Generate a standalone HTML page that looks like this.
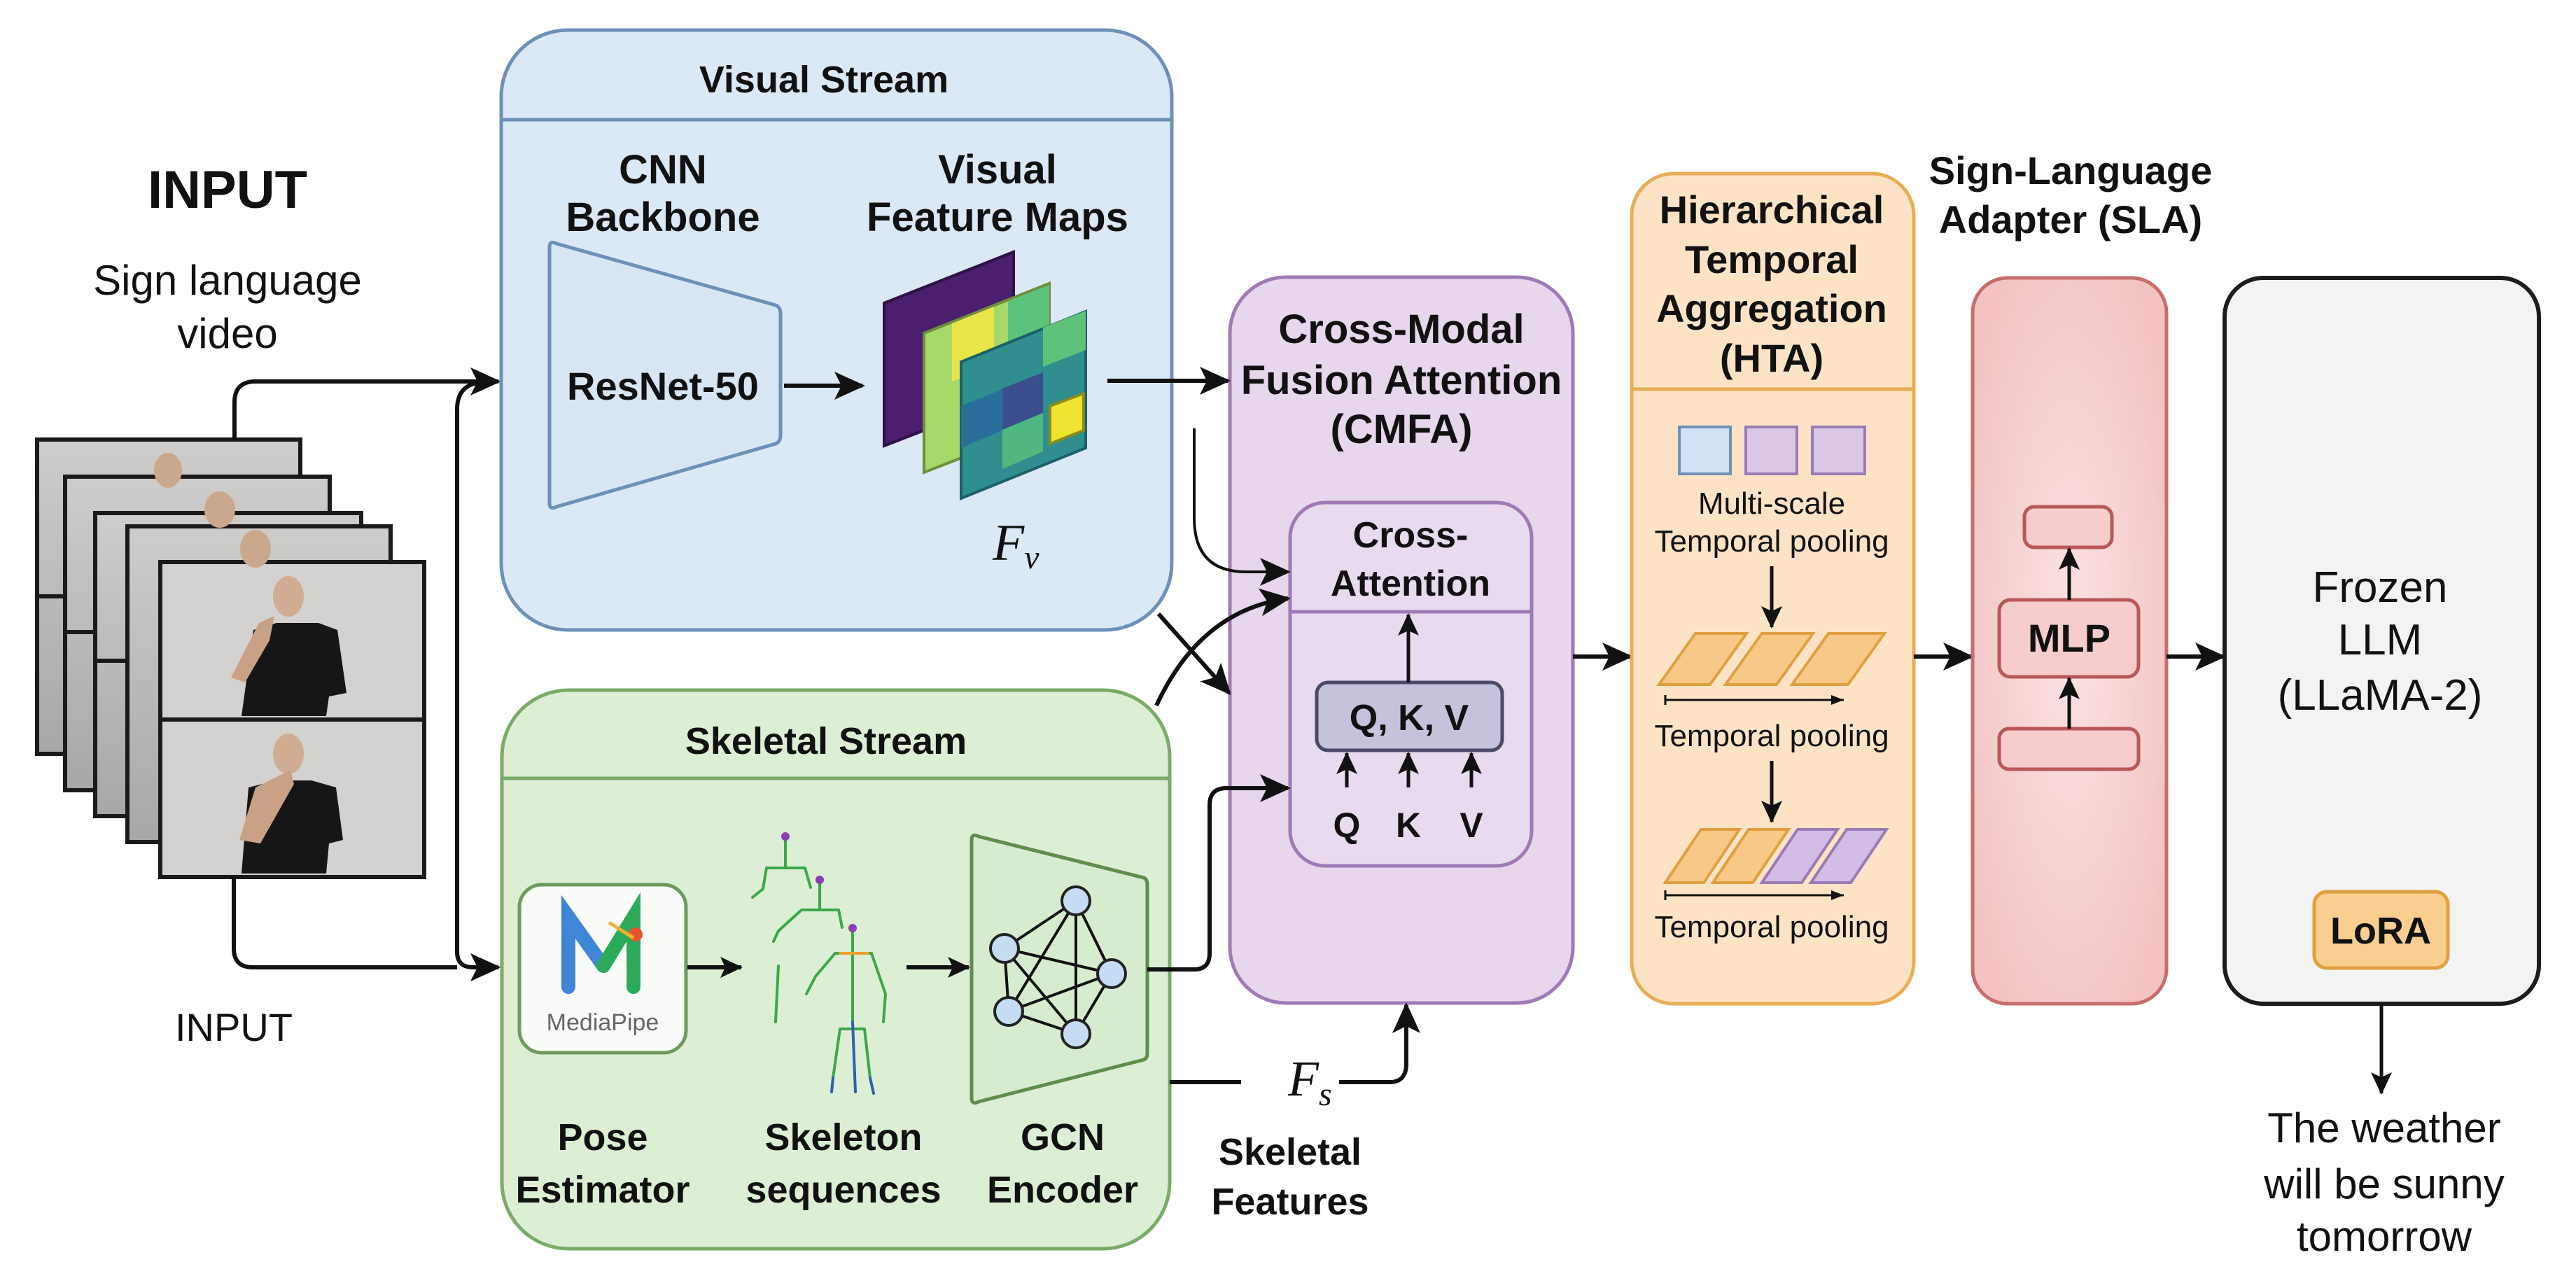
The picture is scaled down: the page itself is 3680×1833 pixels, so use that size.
<!DOCTYPE html>
<html><head><meta charset="utf-8"><style>
html,body{margin:0;padding:0;background:#fff;}
svg{display:block;}
text{font-family:"Liberation Sans",Arial,sans-serif;fill:#111;}
.b{font-weight:bold;}
</style></head><body>
<svg width="3680" height="1833" viewBox="0 0 3680 1833" xmlns="http://www.w3.org/2000/svg">
<defs>
<marker id="ah" markerUnits="userSpaceOnUse" markerWidth="44" markerHeight="40" refX="40" refY="20" orient="auto"><path d="M0,0 L44,20 L0,40 L10,20 z" fill="#111"/></marker>
<marker id="as" markerUnits="userSpaceOnUse" markerWidth="32" markerHeight="30" refX="30" refY="15" orient="auto"><path d="M0,0 L32,15 L0,30 L7,15 z" fill="#111"/></marker>
<marker id="at" markerUnits="userSpaceOnUse" markerWidth="18" markerHeight="14" refX="18" refY="7" orient="auto"><path d="M0,0 L18,7 L0,14 z" fill="#111"/></marker>
<linearGradient id="fr" x1="0" y1="0" x2="0" y2="1"><stop offset="0" stop-color="#cfcdc9"/><stop offset="1" stop-color="#a9a7a4"/></linearGradient>
<radialGradient id="sla" cx="0.5" cy="0.5" r="0.6"><stop offset="0" stop-color="#fbe3e3"/><stop offset="1" stop-color="#f3c3c3"/></radialGradient>
</defs>

<!-- INPUT labels -->
<text x="325" y="297" font-size="76" class="b" text-anchor="middle">INPUT</text>
<text x="325" y="421" font-size="60" text-anchor="middle">Sign language</text>
<text x="325" y="497" font-size="60" text-anchor="middle">video</text>
<text x="334" y="1487" font-size="56" text-anchor="middle">INPUT</text>

<!-- frames stack -->
<g stroke="#1a1a1a" stroke-width="6" fill="url(#fr)">
<rect x="53" y="628" width="376" height="449"/><line x1="53" y1="852" x2="93" y2="852"/>
<rect x="93" y="681" width="378" height="448"/><line x1="93" y1="903" x2="136" y2="903"/>
<rect x="136" y="733" width="380" height="433"/><line x1="136" y1="944" x2="182" y2="944"/>
<rect x="182" y="752" width="376" height="451"/>
<rect x="229" y="803" width="377" height="225" fill="#d4d2ce"/>
<rect x="229" y="1028" width="377" height="225" fill="#d4d2ce"/>
</g>
<!-- people -->
<g>
<ellipse cx="240" cy="672" rx="20" ry="25" fill="#caa88e"/>
<ellipse cx="314" cy="728" rx="22" ry="26" fill="#caa88e"/>
<ellipse cx="365" cy="784" rx="22" ry="27" fill="#caa88e"/>
<ellipse cx="412" cy="852" rx="22" ry="29" fill="#d0ad92"/>
<path d="M345,1023 L362,900 L395,890 L455,890 L482,900 L495,990 L470,995 L466,1023 Z" fill="#161616"/>
<path d="M330,968 L370,890 L392,880 L385,915 L350,975 Z" fill="#c9a185"/>
<ellipse cx="412" cy="1077" rx="22" ry="29" fill="#d0ad92"/>
<path d="M345,1248 L355,1125 L395,1115 L445,1115 L480,1125 L490,1200 L470,1205 L466,1248 Z" fill="#161616"/>
<path d="M342,1200 L365,1125 L415,1100 L420,1120 L372,1205 Z" fill="#c9a185"/>
</g>

<!-- connectors from input -->
<g fill="none" stroke="#111" stroke-width="6">
<path d="M335,628 V575 Q335,545 365,545 H712" marker-end="url(#ah)"/>
<path d="M653,1360 V585 Q653,548 690,546"/>
<path d="M653,1360 Q653,1382 676,1382 H712" marker-end="url(#ah)"/>
<path d="M334,1253 V1355 Q334,1382 361,1382 H653"/>
</g>

<!-- Visual stream -->
<rect x="716" y="43" width="958" height="857" rx="95" fill="#dbe8f5" stroke="#6d90b8" stroke-width="5"/>
<line x1="716" y1="171" x2="1674" y2="171" stroke="#6d90b8" stroke-width="5"/>
<text x="1177" y="132" font-size="54" class="b" text-anchor="middle">Visual Stream</text>
<text x="947" y="262" font-size="58" class="b" text-anchor="middle">CNN</text>
<text x="947" y="330" font-size="58" class="b" text-anchor="middle">Backbone</text>
<text x="1425" y="262" font-size="58" class="b" text-anchor="middle">Visual</text>
<text x="1425" y="330" font-size="58" class="b" text-anchor="middle">Feature Maps</text>
<path d="M785,353 Q785,343 795,348 L1108,436 Q1115,439 1115,448 V622 Q1115,631 1108,634 L795,724 Q785,729 785,719 Z" fill="#d8e6f3" stroke="#6d90b8" stroke-width="5"/>
<text x="947" y="571" font-size="56" class="b" text-anchor="middle">ResNet-50</text>
<line x1="1120" y1="551" x2="1232" y2="551" stroke="#111" stroke-width="6" marker-end="url(#ah)"/>
<!-- feature maps -->
<g stroke-width="4">
<path d="M1263,433 L1448,360 V565 L1263,637 Z" fill="#4a1f6e" stroke="#2e1248"/>
<path d="M1263,433 L1448,360 V565 L1263,637 Z" fill="none" stroke="#2e1248"/>
<path d="M1320,476 L1499,405 V605 L1320,675 Z" fill="#a6d86a" stroke="#6d8f3a"/>
<path d="M1360,462 L1420,438 V520 L1360,545 Z" fill="#e8e54a" stroke="none"/>
<path d="M1440,430 L1499,407 V470 L1440,494 Z" fill="#5cc47a" stroke="none"/>
<path d="M1373,517 L1551,445 V640 L1373,712 Z" fill="#2f8f8f" stroke="#1e5f6a"/>
<path d="M1432,555 L1490,532 V590 L1432,614 Z" fill="#3b4f8e"/>
<path d="M1490,468 L1551,444 V500 L1490,524 Z" fill="#5ec27a"/>
<path d="M1373,580 L1432,556 V615 L1373,640 Z" fill="#2a6f9a"/>
<path d="M1432,614 L1490,590 V645 L1432,670 Z" fill="#4fb87e"/>
<path d="M1500,580 L1548,562 V615 L1500,634 Z" fill="#f0e32e" stroke="#8a8a20"/>
</g>
<text x="1418" y="800" font-size="74" font-style="italic" font-family="Liberation Serif" style="font-family:'Liberation Serif',serif">F<tspan font-size="48" dy="12">v</tspan></text>

<!-- Skeletal stream -->
<rect x="717" y="986" width="954" height="798" rx="95" fill="#dcefd5" stroke="#7aab68" stroke-width="5"/>
<line x1="717" y1="1112" x2="1671" y2="1112" stroke="#7aab68" stroke-width="5"/>
<text x="1180" y="1077" font-size="54" class="b" text-anchor="middle">Skeletal Stream</text>
<rect x="742" y="1264" width="238" height="240" rx="32" fill="#fafcf8" stroke="#6f9a5e" stroke-width="5"/>
<path d="M812,1410 V1310 L862,1380" fill="none" stroke="#3f86d6" stroke-width="20" stroke-linecap="round"/>
<path d="M862,1380 L905,1310 V1410" fill="none" stroke="#2bab5a" stroke-width="20" stroke-linecap="round"/>
<circle cx="908" cy="1335" r="10" fill="#e8542f"/>
<line x1="870" y1="1318" x2="905" y2="1340" stroke="#f0b030" stroke-width="5"/>
<text x="861" y="1472" font-size="34" fill="#666" text-anchor="middle" style="fill:#666">MediaPipe</text>
<text x="861" y="1643" font-size="54" class="b" text-anchor="middle">Pose</text>
<text x="861" y="1718" font-size="54" class="b" text-anchor="middle">Estimator</text>
<text x="1205" y="1643" font-size="54" class="b" text-anchor="middle">Skeleton</text>
<text x="1205" y="1718" font-size="54" class="b" text-anchor="middle">sequences</text>
<text x="1518" y="1643" font-size="54" class="b" text-anchor="middle">GCN</text>
<text x="1518" y="1718" font-size="54" class="b" text-anchor="middle">Encoder</text>
<line x1="982" y1="1382" x2="1059" y2="1382" stroke="#111" stroke-width="6" marker-end="url(#as)"/>
<!-- skeletons -->
<g fill="none" stroke-width="4" stroke-linecap="round">
<g stroke="#3aa84a"><path d="M1122,1200 V1240 M1095,1240 H1150 M1095,1240 L1090,1270 L1075,1282 M1150,1240 L1158,1268"/></g>
<circle cx="1122" cy="1195" r="6" fill="#8a3fb0"/>
<g stroke="#3aa84a"><path d="M1171,1262 V1300 M1145,1300 H1198 M1145,1300 L1112,1330 L1105,1345 M1198,1300 L1203,1325 M1112,1380 L1108,1460"/></g>
<circle cx="1171" cy="1257" r="6" fill="#8a3fb0"/>
<g stroke="#3aa84a"><path d="M1218,1332 V1460 M1193,1362 H1245 M1193,1362 L1165,1395 L1152,1420 M1245,1362 L1265,1420 L1262,1460 M1200,1470 L1190,1540 M1235,1470 L1243,1540 M1200,1470 H1235"/></g>
<g stroke="#2f5fb0"><path d="M1218,1460 L1222,1560 M1190,1540 L1188,1560 M1243,1540 L1248,1562"/></g>
<circle cx="1218" cy="1326" r="6" fill="#8a3fb0"/>
<path d="M1200,1362 L1240,1362" stroke="#f0a030"/>
</g>
<line x1="1295" y1="1382" x2="1384" y2="1382" stroke="#111" stroke-width="6" marker-end="url(#as)"/>
<path d="M1388,1200 Q1388,1190 1398,1195 L1634,1254 Q1639,1256 1639,1265 V1505 Q1639,1512 1634,1514 L1398,1574 Q1388,1579 1388,1569 Z" fill="#d7ecce" stroke="#5f8d4e" stroke-width="5"/>
<g stroke="#111" stroke-width="4">
<line x1="1537" y1="1287" x2="1435" y2="1355"/><line x1="1537" y1="1287" x2="1588" y2="1391"/><line x1="1537" y1="1287" x2="1441" y2="1445"/><line x1="1537" y1="1287" x2="1537" y2="1477"/>
<line x1="1435" y1="1355" x2="1588" y2="1391"/><line x1="1435" y1="1355" x2="1441" y2="1445"/><line x1="1435" y1="1355" x2="1537" y2="1477"/>
<line x1="1588" y1="1391" x2="1441" y2="1445"/><line x1="1588" y1="1391" x2="1537" y2="1477"/><line x1="1441" y1="1445" x2="1537" y2="1477"/>
</g>
<g fill="#c6dcf2" stroke="#222" stroke-width="4">
<circle cx="1537" cy="1287" r="20"/><circle cx="1435" cy="1355" r="20"/><circle cx="1588" cy="1391" r="20"/><circle cx="1441" cy="1445" r="20"/><circle cx="1537" cy="1477" r="20"/>
</g>

<!-- CMFA -->
<rect x="1757" y="396" width="490" height="1037" rx="80" fill="#e6d7ec" stroke="#a07ab6" stroke-width="5"/>
<text x="2002" y="490" font-size="58" class="b" text-anchor="middle">Cross-Modal</text>
<text x="2002" y="563" font-size="58" class="b" text-anchor="middle">Fusion Attention</text>
<text x="2002" y="633" font-size="58" class="b" text-anchor="middle">(CMFA)</text>
<rect x="1843" y="718" width="345" height="519" rx="50" fill="#e9dbef" stroke="#a07ab6" stroke-width="5"/>
<line x1="1843" y1="874" x2="2188" y2="874" stroke="#a07ab6" stroke-width="5"/>
<text x="2015" y="782" font-size="52" class="b" text-anchor="middle">Cross-</text>
<text x="2015" y="851" font-size="52" class="b" text-anchor="middle">Attention</text>
<rect x="1881" y="975" width="265" height="97" rx="16" fill="#c3c3db" stroke="#4a4a68" stroke-width="5"/>
<text x="2013" y="1043" font-size="52" class="b" text-anchor="middle">Q, K, V</text>
<text x="1924" y="1196" font-size="50" class="b" text-anchor="middle">Q</text>
<text x="2012" y="1196" font-size="50" class="b" text-anchor="middle">K</text>
<text x="2102" y="1196" font-size="50" class="b" text-anchor="middle">V</text>
<g stroke="#111" stroke-width="5" fill="none">
<line x1="2012" y1="975" x2="2012" y2="878" marker-end="url(#as)"/>
<line x1="1924" y1="1125" x2="1924" y2="1076" marker-end="url(#as)"/>
<line x1="2012" y1="1125" x2="2012" y2="1076" marker-end="url(#as)"/>
<line x1="2102" y1="1125" x2="2102" y2="1076" marker-end="url(#as)"/>
</g>

<!-- connectors into CMFA -->
<g fill="none" stroke="#111" stroke-width="6">
<path d="M1582,544 H1754" marker-end="url(#ah)"/>
<path d="M1706,612 V740 Q1706,817 1780,817 H1840" stroke-width="4" marker-end="url(#ah)"/>
<path d="M1652,1008 Q1715,872 1840,855" marker-end="url(#ah)"/>
<path d="M1655,877 L1756,990" marker-end="url(#ah)"/>
<path d="M1639,1385 H1706 Q1728,1385 1728,1362 V1150 Q1728,1126 1752,1126 H1840" marker-end="url(#ah)"/>
<path d="M1671,1546 H1773"/>
<path d="M1913,1546 H1985 Q2009,1546 2009,1520 V1436" marker-end="url(#ah)"/>
<path d="M2247,938 H2329" marker-end="url(#ah)"/>
</g>
<text x="1840" y="1565" font-size="72" font-style="italic" style="font-family:'Liberation Serif',serif">F<tspan font-size="48" dy="14">s</tspan></text>
<text x="1843" y="1664" font-size="54" class="b" text-anchor="middle">Skeletal</text>
<text x="1843" y="1735" font-size="54" class="b" text-anchor="middle">Features</text>

<!-- HTA -->
<rect x="2331" y="248" width="403" height="1186" rx="60" fill="#fde3c5" stroke="#e7ae55" stroke-width="5"/>
<line x1="2331" y1="556" x2="2734" y2="556" stroke="#e7ae55" stroke-width="5"/>
<text x="2531" y="319" font-size="56" class="b" text-anchor="middle">Hierarchical</text>
<text x="2531" y="390" font-size="56" class="b" text-anchor="middle">Temporal</text>
<text x="2531" y="460" font-size="56" class="b" text-anchor="middle">Aggregation</text>
<text x="2531" y="531" font-size="56" class="b" text-anchor="middle">(HTA)</text>
<rect x="2399" y="610" width="73" height="67" fill="#d0e3f4" stroke="#7190b8" stroke-width="4"/>
<rect x="2494" y="610" width="73" height="67" fill="#d8c7e5" stroke="#9a7bb5" stroke-width="4"/>
<rect x="2589" y="610" width="75" height="67" fill="#d8c7e5" stroke="#9a7bb5" stroke-width="4"/>
<text x="2531" y="734" font-size="44" text-anchor="middle">Multi-scale</text>
<text x="2531" y="788" font-size="44" text-anchor="middle">Temporal pooling</text>
<line x1="2531" y1="809" x2="2531" y2="896" stroke="#111" stroke-width="5" marker-end="url(#as)"/>
<g stroke="#e0a040" stroke-width="4" fill="#f8c888">
<path d="M2370,978 L2422,905 H2495 L2443,978 Z"/>
<path d="M2465,978 L2517,905 H2590 L2538,978 Z"/>
<path d="M2560,978 L2612,905 H2692 L2640,978 Z"/>
</g>
<line x1="2379" y1="1000" x2="2634" y2="1000" stroke="#111" stroke-width="3" marker-end="url(#at)"/>
<line x1="2379" y1="993" x2="2379" y2="1007" stroke="#111" stroke-width="3"/>
<text x="2531" y="1066" font-size="44" text-anchor="middle">Temporal pooling</text>
<line x1="2531" y1="1087" x2="2531" y2="1174" stroke="#111" stroke-width="5" marker-end="url(#as)"/>
<g stroke-width="4">
<path d="M2379,1261 L2430,1185 H2485 L2434,1261 Z" fill="#f8c888" stroke="#e0a040"/>
<path d="M2447,1261 L2498,1185 H2555 L2504,1261 Z" fill="#f8c888" stroke="#e0a040"/>
<path d="M2517,1261 L2568,1185 H2625 L2574,1261 Z" fill="#d2bde6" stroke="#9a7bb5"/>
<path d="M2587,1261 L2638,1185 H2695 L2644,1261 Z" fill="#d2bde6" stroke="#9a7bb5"/>
</g>
<line x1="2379" y1="1279" x2="2634" y2="1279" stroke="#111" stroke-width="3" marker-end="url(#at)"/>
<line x1="2379" y1="1272" x2="2379" y2="1286" stroke="#111" stroke-width="3"/>
<text x="2531" y="1339" font-size="44" text-anchor="middle">Temporal pooling</text>

<!-- SLA -->
<text x="2958" y="263" font-size="56" class="b" text-anchor="middle">Sign-Language</text>
<text x="2958" y="333" font-size="56" class="b" text-anchor="middle">Adapter (SLA)</text>
<line x1="2734" y1="938" x2="2816" y2="938" stroke="#111" stroke-width="6" marker-end="url(#ah)"/>
<rect x="2818" y="397" width="277" height="1037" rx="50" fill="url(#sla)" stroke="#c86c6c" stroke-width="5"/>
<rect x="2892" y="724" width="125" height="58" rx="14" fill="#f6cccc" stroke="#b85858" stroke-width="5"/>
<rect x="2856" y="857" width="199" height="110" rx="16" fill="#f6cccc" stroke="#b85858" stroke-width="5"/>
<text x="2956" y="931" font-size="56" class="b" text-anchor="middle">MLP</text>
<rect x="2856" y="1041" width="199" height="58" rx="14" fill="#f6cccc" stroke="#b85858" stroke-width="5"/>
<line x1="2956" y1="1041" x2="2956" y2="969" stroke="#111" stroke-width="5" marker-end="url(#as)"/>
<line x1="2956" y1="857" x2="2956" y2="784" stroke="#111" stroke-width="5" marker-end="url(#as)"/>
<line x1="3095" y1="938" x2="3176" y2="938" stroke="#111" stroke-width="6" marker-end="url(#ah)"/>

<!-- LLM -->
<rect x="3178" y="397" width="449" height="1037" rx="55" fill="#f3f3f3" stroke="#1c1c1c" stroke-width="6"/>
<text x="3400" y="860" font-size="62" text-anchor="middle">Frozen</text>
<text x="3400" y="935" font-size="62" text-anchor="middle">LLM</text>
<text x="3400" y="1014" font-size="62" text-anchor="middle">(LLaMA-2)</text>
<rect x="3306" y="1274" width="191" height="109" rx="18" fill="#f9cf90" stroke="#e0a040" stroke-width="5"/>
<text x="3401" y="1348" font-size="54" class="b" text-anchor="middle">LoRA</text>
<line x1="3402" y1="1434" x2="3402" y2="1562" stroke="#111" stroke-width="5" marker-end="url(#as)"/>
<text x="3406" y="1632" font-size="60" text-anchor="middle">The weather</text>
<text x="3406" y="1712" font-size="60" text-anchor="middle">will be sunny</text>
<text x="3406" y="1787" font-size="60" text-anchor="middle">tomorrow</text>
</svg>
</body></html>
